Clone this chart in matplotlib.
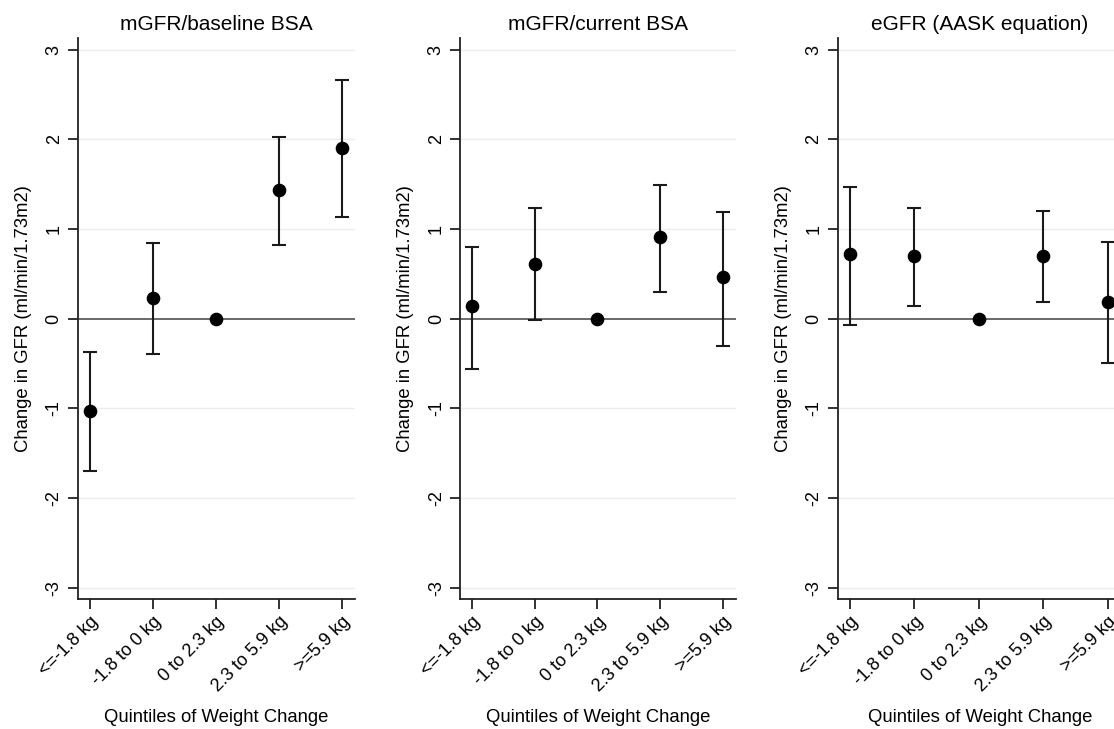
import numpy as np
import matplotlib
matplotlib.use("Agg")
import matplotlib.pyplot as plt

plt.rcParams['font.family'] = ['Liberation Sans', 'DejaVu Sans']

categories = ["<=-1.8 kg", "-1.8 to 0 kg", "0 to 2.3 kg", "2.3 to 5.9 kg", ">=5.9 kg"]
titles = ["mGFR/baseline BSA", "mGFR/current BSA", "eGFR (AASK equation)"]

# point estimates and 95% CI (reference quintile has no interval)
est_baseline = [-1.03, 0.23, 0.0, 1.435, 1.90]
lo_baseline = [-1.70, -0.40, 0.0, 0.82, 1.13]
hi_baseline = [-0.37, 0.84, 0.0, 2.03, 2.66]

est_current = [0.14, 0.61, 0.0, 0.91, 0.46]
lo_current = [-0.56, -0.02, 0.0, 0.30, -0.31]
hi_current = [0.80, 1.23, 0.0, 1.49, 1.19]

est_egfr = [0.72, 0.70, 0.0, 0.70, 0.18]
lo_egfr = [-0.07, 0.14, 0.0, 0.19, -0.50]
hi_egfr = [1.47, 1.23, 0.0, 1.20, 0.85]

series = [(est_baseline, lo_baseline, hi_baseline),
          (est_current, lo_current, hi_current),
          (est_egfr, lo_egfr, hi_egfr)]

fig = plt.figure(figsize=(11.14, 7.29), dpi=100)
lefts = [0.070, 0.413, 0.752]
widths = [0.249, 0.248, 0.255]

x = np.arange(1, 6)
for k in range(3):
    ax = fig.add_axes([lefts[k], 0.178, widths[k], 0.770])
    est, lo, hi = series[k]
    est = np.array(est)
    lo = np.array(lo)
    hi = np.array(hi)
    for yy in [-3, -2, -1, 1, 2, 3]:
        ax.axhline(yy, color='#ededed', lw=1.0, zorder=0)
    ax.axhline(0, color='#5e5e5e', lw=1.3, zorder=1)
    has_ci = hi > lo
    ax.errorbar(x[has_ci], est[has_ci],
                yerr=[est[has_ci] - lo[has_ci], hi[has_ci] - est[has_ci]],
                fmt='none', ecolor='#1a1a1a', elinewidth=1.5, capsize=5, capthick=1.5, zorder=2)
    ax.plot(x, est, 'o', color='black', markersize=8.8, zorder=3)
    ax.set_xlim(0.81, 5.22)
    ax.set_ylim(-3.13, 3.13)
    ax.set_yticks([-3, -2, -1, 0, 1, 2, 3])
    ax.set_yticklabels(["-3", "-2", "-1", "0", "1", "2", "3"], rotation=90, va='center')
    ax.set_xticks(x)
    ax.set_xticklabels(categories, rotation=45, ha='right', rotation_mode='anchor')
    ax.tick_params(axis='both', labelsize=13, length=7, width=1.3, color='#222222')
    ax.tick_params(axis='y', pad=4)
    ax.tick_params(axis='x', pad=3)
    for s in ['top', 'right']:
        ax.spines[s].set_visible(False)
    for s in ['left', 'bottom']:
        ax.spines[s].set_linewidth(1.3)
        ax.spines[s].set_color('#222222')
    ax.set_title(titles[k], fontsize=15, pad=6)
    ax.set_xlabel("Quintiles of Weight Change", fontsize=13.3, labelpad=10)
    ax.set_ylabel("Change in GFR (ml/min/1.73m2)", fontsize=13.3, labelpad=10)

fig.savefig("out.png", dpi=100, facecolor='white')
